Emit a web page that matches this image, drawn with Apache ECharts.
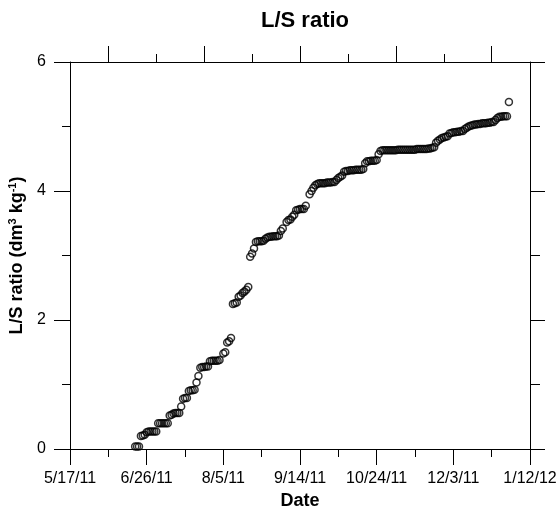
<!DOCTYPE html>
<html>
<head>
<meta charset="utf-8">
<script src="https://cdn.jsdelivr.net/npm/echarts@6/dist/echarts.min.js"></script>
<style>html,body{margin:0;padding:0;background:#fff}#c{width:558px;height:508px}</style>
</head>
<body>
<div id="c"></div>
<script>
// Sample dates as spreadsheet day serials (40680 = 5/17/11)
var sampleDay = [
40714,40715,40716,40717,40718,40719,40720,40721,40722,40723,40724,40725,
40726,40727,40728,40729,40730,40731,40732,40733,40734,40735,40736,40737,
40738,40739,40740,40741,40742,40743,40744,40745,40746,40747,40748,40749,
40750,40751,40752,40753,40754,40755,40756,40757,40758,
40760,40761,40762,40763,40764,40765,40766,40767,40768,40769,40770,40771,
40772,40773,40774,40775,40776,40777,40778,40779,40780,40781,40782,40783,
40784,40785,40786,40787,40788,40789,40790,40791,
40793,40794,40795,40796,40797,40798,40799,40800,40801,40802,40803,
40805,40806,40807,40808,40809,40810,40811,40812,40813,40814,40815,40816,
40817,40818,40819,40820,40821,40822,40823,40824,40825,40826,40827,40828,
40829,40830,40831,40832,40833,40834,40835,40836,40837,40838,40839,40840,
40841,40842,40843,40844,40845,40846,40847,40848,40849,40850,40851,40852,
40853,40854,40855,40856,40857,40858,40859,40860,40861,40862,40863,40864,
40865,40866,40867,40868,40869,40870,40871,40872,40873,40874,40875,40876,
40877,40878,40879,40880,40881,40882,40883,40884,40885,40886,40887,40888,
40889,40890,40891,40892,40893,40894,40895,40896,40897,40898,40899,40900,
40901,40902,40903,40904,40905,40906,40907,40908,40909
];
var lsRatio = [
0.04,0.04,0.04,0.20,0.21,0.22,0.26,0.27,0.27,0.27,0.27,0.27,
0.40,0.40,0.40,0.40,0.40,0.40,0.52,0.53,0.55,0.56,0.56,0.56,
0.66,0.78,0.79,0.79,0.90,0.91,0.91,0.92,1.03,1.13,1.26,1.27,
1.27,1.28,1.28,1.36,1.37,1.37,1.37,1.37,1.38,
1.48,1.50,1.65,1.67,1.72,2.25,2.26,2.27,2.36,2.38,2.42,2.44,
2.47,2.51,2.98,3.03,3.11,3.21,3.22,3.22,3.22,3.23,3.26,3.28,
3.29,3.29,3.30,3.30,3.30,3.31,3.38,3.42,
3.52,3.55,3.56,3.60,3.63,3.70,3.71,3.72,3.72,3.72,3.77,
3.95,4.00,4.05,4.09,4.11,4.12,4.12,4.12,4.12,4.13,4.13,4.13,
4.14,4.14,4.17,4.20,4.22,4.24,4.30,4.31,4.31,4.32,4.32,4.32,
4.33,4.33,4.33,4.33,4.34,4.43,4.46,4.46,4.47,4.47,4.47,4.48,
4.57,4.62,4.63,4.63,4.63,4.63,4.63,4.63,4.63,4.63,4.64,4.64,
4.64,4.64,4.64,4.64,4.64,4.64,4.64,4.64,4.65,4.65,4.65,4.65,
4.65,4.65,4.66,4.66,4.67,4.68,4.75,4.78,4.80,4.82,4.83,4.84,
4.85,4.89,4.90,4.91,4.91,4.92,4.92,4.93,4.93,4.96,4.98,5.00,
5.01,5.02,5.03,5.03,5.04,5.04,5.05,5.05,5.05,5.06,5.06,5.07,
5.07,5.10,5.13,5.15,5.15,5.16,5.16,5.16,5.38
];
var xTickValues = [40680,40720,40760,40800,40840,40880,40920];
var xTickLabels = ['5/17/11','6/26/11','8/5/11','9/14/11','10/24/11','12/3/11','1/12/12'];
var topMajorTicks = [40700,40750,40800,40850,40900];
var topMinorTicks = [40725,40775,40825,40875];
var yTickValues = [0,2,4,6];

var FONT = '"Liberation Sans", Arial, Helvetica, sans-serif';
var points = sampleDay.map(function (d, i) { return [d, lsRatio[i]]; });
var lineStyle = { color: '#000', width: 1 };

var chart = echarts.init(document.getElementById('c'), null, { renderer: 'canvas' });
chart.setOption({
  animation: false,
  backgroundColor: '#fff',
  title: {
    text: 'L/S ratio', left: 300, top: 5, textAlign: 'center',
    textStyle: { fontFamily: FONT, fontSize: 22, fontWeight: 'bold', color: '#000' }
  },
  grid: { left: 70, right: 28, top: 62, bottom: 59, containLabel: false, outerBoundsMode: 'none' },
  xAxis: [{
    type: 'value', position: 'bottom', min: 40680, max: 40920, interval: 40,
    axisLine: { show: true, onZero: false, lineStyle: lineStyle },
    axisTick: { show: true, inside: false, length: 16, lineStyle: lineStyle },
    minorTick: { show: true, splitNumber: 2, length: 8, lineStyle: lineStyle },
    splitLine: { show: false },
    axisLabel: {
      margin: 22, fontFamily: FONT, fontSize: 16, color: '#000', hideOverlap: false,
      formatter: function (v) { var i = xTickValues.indexOf(v); return i >= 0 ? xTickLabels[i] : ''; }
    },
    name: 'Date', nameLocation: 'middle', nameGap: 35,
    nameTextStyle: { fontFamily: FONT, fontSize: 18, fontWeight: 'bold', color: '#000' }
  }, {
    type: 'value', position: 'top', min: 40680, max: 40920,
    axisLine: { show: true, onZero: false, lineStyle: lineStyle },
    axisTick: { show: true, inside: false, length: 16, lineStyle: lineStyle, customValues: topMajorTicks },
    axisLabel: { show: false },
    splitLine: { show: false }
  }, {
    type: 'value', position: 'top', min: 40680, max: 40920,
    axisLine: { show: false, onZero: false },
    axisTick: { show: true, inside: false, length: 8, lineStyle: lineStyle, customValues: topMinorTicks },
    axisLabel: { show: false },
    splitLine: { show: false }
  }],
  yAxis: [{
    type: 'value', position: 'left', min: 0, max: 6, interval: 2,
    axisLine: { show: true, onZero: false, lineStyle: lineStyle },
    axisTick: { show: true, inside: false, length: 16, lineStyle: lineStyle },
    minorTick: { show: true, splitNumber: 2, length: 8, lineStyle: lineStyle },
    splitLine: { show: false },
    axisLabel: {
      margin: 24, fontFamily: FONT, fontSize: 16, color: '#000',
      formatter: function (v) { return yTickValues.indexOf(v) >= 0 ? String(v) : ''; }
    },
    name: 'L/S ratio (dm{sup|3} kg{sup|-1})', nameLocation: 'middle', nameGap: 42,
    nameTextStyle: {
      fontFamily: FONT, fontSize: 18, fontWeight: 'bold', color: '#000',
      rich: { sup: { fontFamily: FONT, fontSize: 11, fontWeight: 'bold', color: '#000', verticalAlign: 'top', lineHeight: 20 } }
    }
  }, {
    type: 'value', position: 'right', min: 0, max: 6, interval: 2,
    axisLine: { show: true, onZero: false, lineStyle: lineStyle },
    axisTick: { show: true, inside: false, length: 15, lineStyle: lineStyle },
    minorTick: { show: true, splitNumber: 2, length: 10, lineStyle: lineStyle },
    splitLine: { show: false },
    axisLabel: { show: false }
  }],
  series: [{
    type: 'scatter', xAxisIndex: 0, yAxisIndex: 0,
    data: points,
    symbol: 'circle', symbolSize: 7,
    itemStyle: { color: 'rgba(0,0,0,0)', borderColor: '#000', borderWidth: 1.5 },
    emphasis: { disabled: true }
  }]
});
</script>
</body>
</html>
